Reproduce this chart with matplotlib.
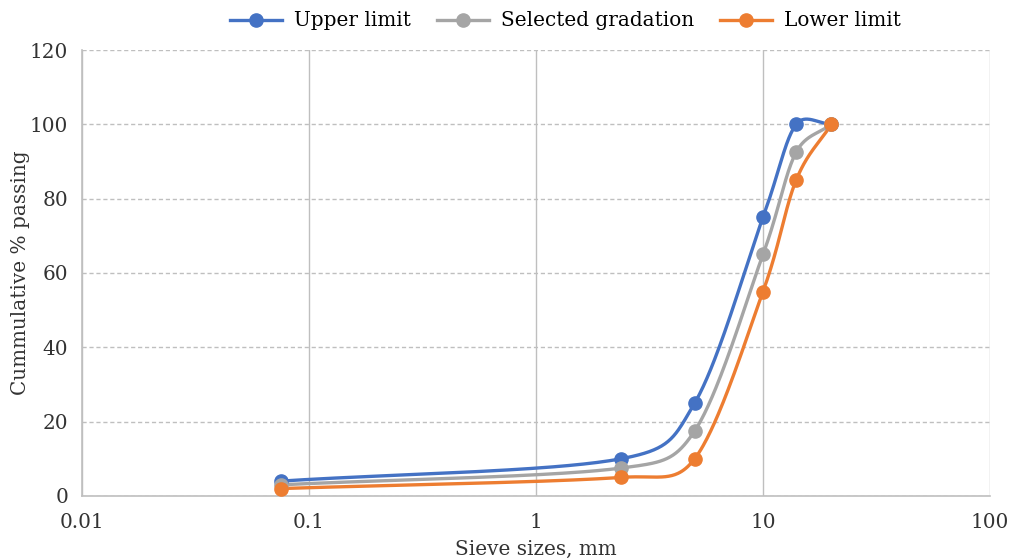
import numpy as np
import matplotlib.pyplot as plt

sieve = [0.075, 2.36, 5, 10, 14, 20]
upper = [4, 10, 25, 75, 100, 100]
selected = [3, 7.5, 17.5, 65, 92.5, 100]
lower = [2, 5, 10, 55, 85, 100]

names = ['Upper limit', 'Selected gradation', 'Lower limit']
colors = ['#4472C4', '#A5A5A5', '#ED7D31']

plt.rcParams['font.family'] = ['DejaVu Serif']

fig = plt.figure(figsize=(10.16, 5.6), dpi=100)
ax = fig.add_axes([0.0807, 0.1143, 0.8937, 0.7964])
ax.set_xscale('log')
ax.set_xlim(0.01, 100)
ax.set_ylim(0, 120)


def smooth(xs, ys, n=60):
    # Excel style smoothed line, bezier segments worked out in plot space
    sx = 227.0       # px per decade
    sy = 3.72 * 1.3  # y a bit stretched, closer to how excel bends it
    P = np.column_stack([np.log10(xs) * sx, np.array(ys) * sy])
    out = [P[0]]
    for i in range(len(P) - 1):
        p1, p2 = P[i], P[i + 1]
        p0 = P[i - 1] if i > 0 else p1
        p3 = P[i + 2] if i + 2 < len(P) else p2
        d12 = np.hypot(*(p2 - p1))
        d02 = np.hypot(*(p2 - p0))
        d13 = np.hypot(*(p3 - p1))
        f0 = 1 / 3 if i == 0 else 1 / 6
        f1 = 1 / 3 if i + 2 >= len(P) else 1 / 6
        f0 = min(f0, d12 / (2 * d02))
        f1 = min(f1, d12 / (2 * d13))
        c1 = p1 + f0 * (p2 - p0)
        c2 = p2 - f1 * (p3 - p1)
        t = np.linspace(0, 1, n)[1:, None]
        seg = (1 - t) ** 3 * p1 + 3 * (1 - t) ** 2 * t * c1 + 3 * (1 - t) * t ** 2 * c2 + t ** 3 * p2
        out.extend(seg)
    out = np.array(out)
    return 10 ** (out[:, 0] / sx), out[:, 1] / sy


for ys, name, c in zip([upper, selected, lower], names, colors):
    cx, cy = smooth(sieve, ys)
    ax.plot(cx, cy, color=c, lw=2.4, zorder=3, solid_capstyle='round')
    ax.plot(sieve, ys, 'o', color=c, ms=9.5, zorder=4)
    ax.plot([], [], '-o', color=c, lw=2.4, ms=9.5, label=name)

ax.set_yticks(range(0, 121, 20))
ax.set_xticks([0.01, 0.1, 1, 10, 100])
ax.set_xticklabels(['0.01', '0.1', '1', '10', '100'])
ax.minorticks_off()
ax.tick_params(length=0, labelsize=14.4, colors='#333333')
ax.tick_params(axis='y', pad=10)
ax.tick_params(axis='x', pad=12)
ax.yaxis.grid(True, color='#BFBFBF', ls=(0, (3, 2)), lw=1)
ax.xaxis.grid(True, color='#BFBFBF', ls='-', lw=1)
ax.set_axisbelow(True)
for s in ['top', 'right']:
    ax.spines[s].set_visible(False)
for s in ['left', 'bottom']:
    ax.spines[s].set_color('#BFBFBF')
    ax.spines[s].set_linewidth(1.2)

ax.set_xlabel('Sieve sizes, mm', fontsize=14.4, color='#333333', labelpad=6)
ax.set_ylabel('Cummulative % passing', fontsize=14.4, color='#333333', labelpad=0)

fig.legend(loc='center', bbox_to_anchor=(0.557, 0.9625), ncol=3, frameon=False,
           fontsize=14.4, handlelength=2.6, columnspacing=1.3, handletextpad=0.6)

fig.savefig('out.png', dpi=100)
